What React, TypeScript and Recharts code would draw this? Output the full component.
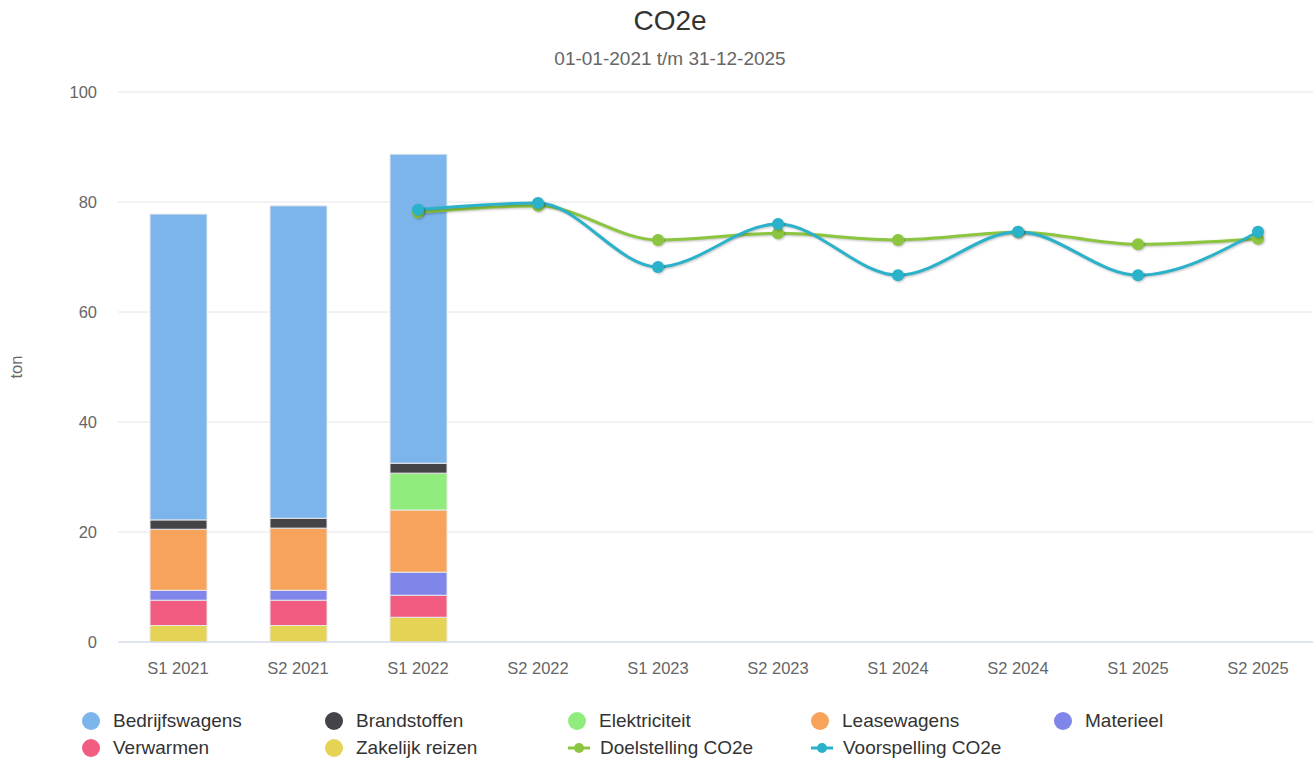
import React from "react";
import {
  ComposedChart,
  Bar,
  Line,
  XAxis,
  YAxis,
  CartesianGrid,
} from "recharts";

const categories = [
  "S1 2021", "S2 2021", "S1 2022", "S2 2022", "S1 2023",
  "S2 2023", "S1 2024", "S2 2024", "S1 2025", "S2 2025",
];

const zakelijkReizen = [3.0, 3.0, 4.5, null, null, null, null, null, null, null];
const verwarmen = [4.6, 4.6, 4.0, null, null, null, null, null, null, null];
const materieel = [1.8, 1.8, 4.2, null, null, null, null, null, null, null];
const leasewagens = [11.1, 11.3, 11.3, null, null, null, null, null, null, null];
const elektriciteit = [0, 0, 6.7, null, null, null, null, null, null, null];
const brandstoffen = [1.7, 1.8, 1.8, null, null, null, null, null, null, null];
const bedrijfswagens = [55.6, 56.8, 56.2, null, null, null, null, null, null, null];

const doelstelling = [null, null, 78.1, 79.3, 73.1, 74.3, 73.1, 74.5, 72.3, 73.3];
const voorspelling = [null, null, 78.6, 79.8, 68.2, 76.0, 66.7, 74.6, 66.7, 74.6];

const yTicks = [0, 20, 40, 60, 80, 100];

const barSeries = [
  { key: "zakelijkReizen", name: "Zakelijk reizen", color: "#e4d354", values: zakelijkReizen },
  { key: "verwarmen", name: "Verwarmen", color: "#f15c80", values: verwarmen },
  { key: "materieel", name: "Materieel", color: "#8085e9", values: materieel },
  { key: "leasewagens", name: "Leasewagens", color: "#f7a35c", values: leasewagens },
  { key: "elektriciteit", name: "Elektriciteit", color: "#90ed7d", values: elektriciteit },
  { key: "brandstoffen", name: "Brandstoffen", color: "#434348", values: brandstoffen },
  { key: "bedrijfswagens", name: "Bedrijfswagens", color: "#7cb5ec", values: bedrijfswagens },
];

const lineSeries = [
  { key: "doelstelling", name: "Doelstelling CO2e", color: "#8cc63f", values: doelstelling },
  { key: "voorspelling", name: "Voorspelling CO2e", color: "#2ab2cb", values: voorspelling },
];

const legendOrder = [
  "Bedrijfswagens", "Brandstoffen", "Elektriciteit", "Leasewagens", "Materieel",
  "Verwarmen", "Zakelijk reizen", "Doelstelling CO2e", "Voorspelling CO2e",
];

const data = categories.map((cat, i) => {
  const row: Record<string, any> = { cat };
  barSeries.forEach((s) => (row[s.key] = s.values[i]));
  lineSeries.forEach((s) => (row[s.key] = s.values[i]));
  return row;
});

const FONT = '"Liberation Sans", Arial, Helvetica, sans-serif';

function LegendBox() {
  const all = [...barSeries, ...lineSeries];
  return (
    <div
      style={{
        position: "absolute",
        left: 82,
        top: 710,
        display: "grid",
        gridTemplateColumns: "repeat(5, 243px)",
        rowGap: 5,
        fontFamily: FONT,
        fontSize: 19,
        color: "#333",
      }}
    >
      {legendOrder.map((name) => {
        const s = all.find((x) => x.name === name)!;
        const isLine = lineSeries.some((l) => l.name === name);
        return (
          <div key={name} style={{ display: "flex", alignItems: "center", height: 22 }}>
            <svg width={26} height={20} style={{ marginRight: 5 }}>
              {isLine ? (
                <>
                  <line x1={0} x2={22} y1={10} y2={10} stroke={s.color} strokeWidth={3} />
                  <circle cx={11} cy={10} r={5} fill={s.color} />
                </>
              ) : (
                <circle cx={9} cy={10} r={9} fill={s.color} />
              )}
            </svg>
            <span style={{ marginLeft: isLine ? 1 : 0 }}>{name}</span>
          </div>
        );
      })}
    </div>
  );
}

export default function App() {
  return (
    <div
      style={{
        position: "absolute",
        left: 0,
        top: 0,
        width: 1313,
        height: 758,
        overflow: "hidden",
        background: "#fff",
        fontFamily: FONT,
      }}
    >
      <div
        style={{
          position: "absolute",
          top: 5,
          left: 0,
          width: 1340,
          textAlign: "center",
          fontSize: 28,
          color: "#333",
        }}
      >
        CO2e
      </div>
      <div
        style={{
          position: "absolute",
          top: 48,
          left: 0,
          width: 1340,
          textAlign: "center",
          fontSize: 19,
          color: "#666",
        }}
      >
        01-01-2021 t/m 31-12-2025
      </div>
      <div style={{ position: "absolute", left: 0, top: 0 }}>
        <ComposedChart
          width={1320}
          height={690}
          data={data}
          margin={{ top: 92, right: 2, left: 0, bottom: 18 }}
          barCategoryGap={0}
        >
          <CartesianGrid vertical={false} stroke="#e6e6e6" />
          <XAxis
            dataKey="cat"
            tickLine={false}
            axisLine={{ stroke: "#ccd6eb" }}
            height={30}
            tick={{ fill: "#666", fontSize: 16.5 }}
            tickMargin={14}
          />
          <YAxis
            width={118}
            domain={[0, 100]}
            ticks={yTicks}
            tickLine={false}
            axisLine={false}
            tickSize={0}
            tickMargin={21}
            tick={{ fill: "#666", fontSize: 16.5 }}
            label={{
              content: ({ viewBox }: any) => (
                <text
                  x={22}
                  y={viewBox.y + viewBox.height / 2}
                  transform={`rotate(-90 22 ${viewBox.y + viewBox.height / 2})`}
                  textAnchor="middle"
                  fill="#666"
                  fontSize={16.5}
                >
                  ton
                </text>
              ),
            }}
          />
          {barSeries.map((s) => (
            <Bar
              key={s.key}
              dataKey={s.key}
              name={s.name}
              stackId="co2"
              fill={s.color}
              stroke="#e8e8e8"
              strokeWidth={1}
              barSize={57}
              isAnimationActive={false}
            />
          ))}
          {lineSeries.map((s) => (
            <Line
              key={s.key}
              dataKey={s.key}
              name={s.name}
              type="monotone"
              stroke={s.color}
              strokeWidth={3}
              dot={{ r: 6, fill: s.color, stroke: s.color, strokeWidth: 0 }}
              activeDot={false}
              style={{ filter: "drop-shadow(1px 1px 1px rgba(0,0,0,0.25))" }}
              isAnimationActive={false}
            />
          ))}
        </ComposedChart>
      </div>
      <LegendBox />
    </div>
  );
}
